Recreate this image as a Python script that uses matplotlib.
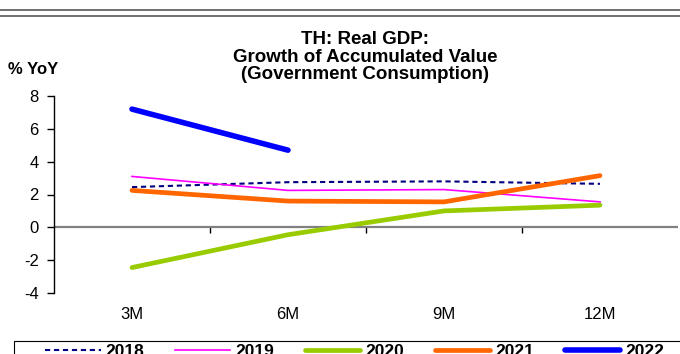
import matplotlib
matplotlib.use("Agg")
import matplotlib.pyplot as plt
from matplotlib.lines import Line2D
from matplotlib.patches import Rectangle

plt.rcParams['font.family'] = ['Liberation Sans', 'DejaVu Sans']

categories = ["3M", "6M", "9M", "12M"]
years = ["2018", "2019", "2020", "2021", "2022"]
v2018 = [2.45, 2.75, 2.8, 2.65]
v2019 = [3.1, 2.25, 2.3, 1.55]
v2020 = [-2.45, -0.45, 1.0, 1.35]
v2021 = [2.25, 1.6, 1.55, 3.15]
v2022 = [7.2, 4.7]
yticks = [-4, -2, 0, 2, 4, 6, 8]

W, H = 680, 354
fig = plt.figure(figsize=(W/100, H/100), dpi=100)
ax = fig.add_axes([54/W, 1-293/H, 624/W, (293-96)/H])

x = list(range(len(categories)))
styles = [
    (v2018, dict(color="#000080", lw=1.5, ls=(0, (2.5, 1.8)))),
    (v2019, dict(color="#FF00FF", lw=1.2)),
    (v2020, dict(color="#99CC00", lw=3.4, solid_capstyle="round")),
    (v2021, dict(color="#FF6600", lw=3.4, solid_capstyle="round")),
    (v2022, dict(color="#0000FF", lw=4.0, solid_capstyle="round")),
]
for (vals, st), yr in zip(styles, years):
    ax.plot(x[:len(vals)], vals, label=yr, **st)

ax.set_xlim(-0.5, 3.5)
ax.set_ylim(-4, 8)
ax.set_yticks(yticks)
ax.set_yticklabels([str(t) for t in yticks], fontsize=12)
ax.tick_params(axis='y', direction='out', length=5, width=1, pad=6)
ax.set_xticks(x)
ax.set_xticklabels(categories, fontsize=12)
ax.tick_params(axis='x', length=0, pad=10)
for s in ['top', 'right', 'bottom']:
    ax.spines[s].set_visible(False)
ax.spines['left'].set_linewidth(1)
ax.axhline(0, color="#808080", lw=1.6, zorder=1)

sec = ax.secondary_xaxis(4/12)
sec.set_xticks([0.5, 1.5, 2.5])
sec.set_xticklabels([])
sec.tick_params(length=4, width=1, direction='out')
sec.spines['bottom'].set_visible(False)

fig.text(365/W, 1-57/H, "TH: Real GDP:\nGrowth of Accumulated Value\n(Government Consumption)",
         ha='center', va='center', fontsize=13.5, fontweight='bold', linespacing=1.05)
fig.text(8/W, 1-70/H, "% YoY", ha='left', va='center', fontsize=12, fontweight='bold')

for yy in [9.5, 15.5]:
    fig.add_artist(Line2D([0, 1], [1-yy/H, 1-yy/H], transform=fig.transFigure,
                          color="#707070", lw=1.4))

# legend frame (extends beyond the figure edge as in the reference)
fig.add_artist(Rectangle((14/W, -0.2), 1.2, (1-341/H)+0.2, transform=fig.transFigure,
                         facecolor='none', edgecolor='black', lw=0.8))

leg = fig.legend(loc='center left', bbox_to_anchor=(45/W, 1-351.5/H), ncol=5,
                 frameon=False,
                 handlelength=3.2, handletextpad=0.3, columnspacing=1.75,
                 borderpad=0, borderaxespad=0,
                 prop={'weight': 'bold', 'size': 12.5})

fig.savefig("out.png", dpi=100)
